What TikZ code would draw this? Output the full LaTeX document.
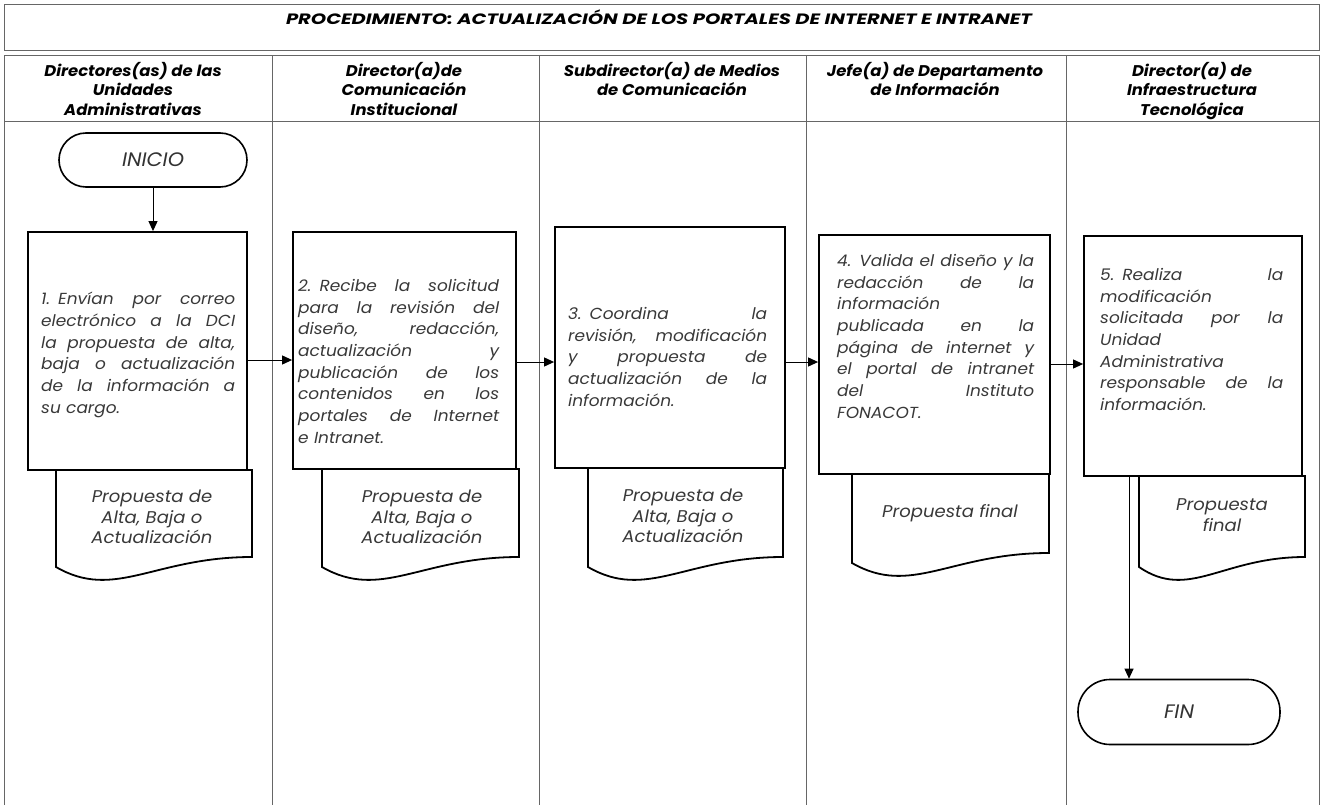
\documentclass[tikz,border=0pt]{standalone}
\usepackage{fontspec}
\setmainfont{Poppins}[FakeStretch=1.06]
\newfontfamily\titlefont{Poppins}[FakeStretch=1.3]
\usetikzlibrary{arrows.meta}
% one justified line of a step description: the word spaces share the spare width
\newlength\jw
\newcommand\jl[1]{\leavevmode\hbox to \jw{\spaceskip=\fontdimen2\font plus 1fil\relax #1}}
% document symbol: left, right, top, bottom-left
\newcommand\docshape[4]{%
  \draw[docline] (#1,#3) -- (#2,#3) -- (#2,{#4-10})
    .. controls ({#1+0.5*(#2-#1)},{#4-10}) and ({#1+0.3*(#2-#1)},{#4+34}) .. (#1,#4) -- cycle;}

\begin{document}
\begin{tikzpicture}[x=1pt,y=-1pt,
  frame/.style={draw=black!60, line width=1pt},
  stepbox/.style={draw=black, line width=1.8pt, rectangle, inner sep=0pt},
  term/.style={draw=black, line width=1.6pt, inner sep=0pt,
    font=\fontsize{19.5}{22}\selectfont\itshape, text=black!80},
  flow/.style={draw=black, line width=1pt, -{Triangle[length=10pt,width=9pt]}},
  body/.style={inner sep=0pt, anchor=north west, align=left, text width=#1,
    execute at begin node={\setlength\jw{#1}},
    font=\fontsize{16}{21.7}\selectfont\itshape, text=black!78},
  doctext/.style={inner sep=0pt, align=center,
    font=\fontsize{17}{20.5}\selectfont\itshape, text=black!78},
  lanehead/.style={anchor=north, align=center, inner sep=0pt,
    font=\fontsize{15.5}{19.5}\selectfont\bfseries\itshape},
  docline/.style={draw=black, line width=1.8pt, line join=miter},
]
\useasboundingbox (0,0) rectangle (1321,805);

% title band and swimlanes
\draw[frame] (4,5) rectangle (1319,51);
\draw[frame] (4,805) -- (4,56) -- (1319,56) -- (1319,805);
\draw[frame] (4,122) -- (1319,122);
\foreach \x in {272,539,806,1066} \draw[frame] (\x,56) -- (\x,805);

\node[font=\titlefont\fontsize{15}{17}\selectfont\bfseries\itshape] (title) at (659,17)
  {PROCEDIMIENTO: ACTUALIZACIÓN DE LOS PORTALES DE INTERNET E INTRANET};

\node[lanehead] (h1) at (133,62) {Directores(as) de las\\Unidades\\Administrativas};
\node[lanehead] (h2) at (404,62) {Director(a)de\\Comunicación\\Institucional};
\node[lanehead] (h3) at (672,62) {Subdirector(a) de Medios\\de Comunicación};
\node[lanehead] (h4) at (935,62) {Jefe(a) de Departamento\\de Información};
\node[lanehead] (h5) at (1192,62) {Director(a) de\\Infraestructura\\Tecnológica};

% start and end
\node[term, rounded corners=27pt, minimum width=188pt, minimum height=54pt] (inicio) at (153,160) {INICIO};
\node[term, rounded corners=32pt, minimum width=202pt, minimum height=65pt] (fin) at (1179,712) {FIN};

% process steps
\node[stepbox, minimum width=219pt, minimum height=238pt] (p1) at (137.5,351) {};
\node[stepbox, minimum width=223pt, minimum height=237pt] (p2) at (404.5,350.5) {};
\node[stepbox, minimum width=230pt, minimum height=241pt] (p3) at (670,347.5) {};
\node[stepbox, minimum width=231pt, minimum height=239pt] (p4) at (934.5,354.5) {};
\node[stepbox, minimum width=218pt, minimum height=240pt] (p5) at (1193,356) {};

\node[body=194pt] (t1) at (41,292) {%
\jl{1. Envían por correo}\\
\jl{electrónico a la DCI}\\
\jl{la propuesta de alta,}\\
\jl{baja o actualización}\\
\jl{de la información a}\\
su cargo.};

\node[body=201pt] (t2) at (298,279) {%
\jl{2. Recibe la solicitud}\\
\jl{para la revisión del}\\
\jl{diseño, redacción,}\\
\jl{actualización y}\\
\jl{publicación de los}\\
\jl{contenidos en los}\\
\jl{portales de Internet}\\
e Intranet.};

\node[body=199pt] (t3) at (568,307) {%
\jl{3. Coordina la}\\
\jl{revisión, modificación}\\
\jl{y propuesta de}\\
\jl{actualización de la}\\
información.};

\node[body=197pt] (t4) at (837,254) {%
\jl{4. Valida el diseño y la}\\
\jl{redacción de la}\\
información\\
\jl{publicada en la}\\
\jl{página de internet y}\\
\jl{el portal de intranet}\\
\jl{del Instituto}\\
FONACOT.};

\node[body=183pt] (t5) at (1100,268) {%
\jl{5. Realiza la}\\
modificación\\
\jl{solicitada por la}\\
Unidad\\
Administrativa\\
\jl{responsable de la}\\
información.};

% documents produced by each step
\docshape{56}{252}{470}{567}
\docshape{322}{519}{469}{567}
\docshape{588}{783}{468}{567}
\docshape{852}{1049}{474}{563}
\docshape{1139}{1305}{476}{567}
\node[doctext] (d1) at (152,517) {Propuesta de\\Alta, Baja o\\Actualización};
\node[doctext] (d2) at (422,517) {Propuesta de\\Alta, Baja o\\Actualización};
\node[doctext] (d3) at (683,516) {Propuesta de\\Alta, Baja o\\Actualización};
\node[doctext] (d4) at (950,513) {Propuesta final};
\node[doctext] (d5) at (1222,515) {Propuesta\\final};

% flow
\draw[flow] (inicio.south) -- (inicio.south |- p1.north);
\draw[flow] (p1.east |- 0,360) -- (p2.west |- 0,360);
\draw[flow] (p2.east |- 0,362) -- (p3.west |- 0,362);
\draw[flow] (p3.east |- 0,362) -- (p4.west |- 0,362);
\draw[flow] (p4.east |- 0,364) -- (p5.west |- 0,364);
\draw[flow] (p5.south -| 1129,0) -- (fin.north -| 1129,0);
\end{tikzpicture}
\end{document}
